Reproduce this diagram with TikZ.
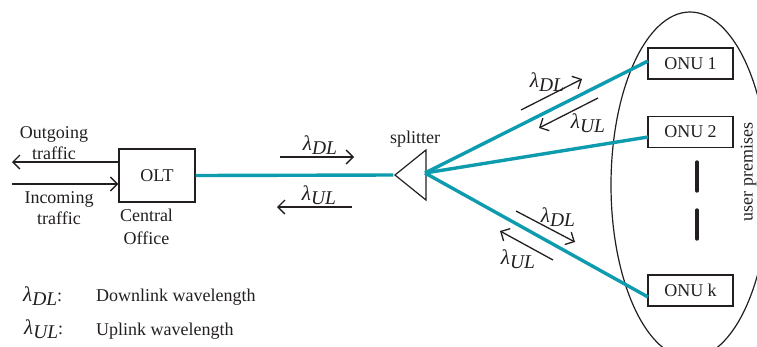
\documentclass[tikz,border=0pt]{standalone}
\usepackage{fontspec}
\setmainfont{Liberation Serif}
\usetikzlibrary{positioning, shapes.geometric, arrows.meta}
\definecolor{ponFiber}{HTML}{0E9BAE}
\definecolor{ponInk}{HTML}{231F20}
\newcommand{\wl}[1]{{\fontsize{21}{21}\selectfont\itshape λ\raisebox{-4pt}{\fontsize{19.5}{19.5}\selectfont #1}}}
\tikzset{
    ponBox/.style={
        rectangle,
        draw=ponInk,
        line width=1.4pt,
        inner sep=0pt
    },
    oltBox/.style={ponBox, minimum width=76pt, minimum height=53pt},
    onuBox/.style={ponBox, minimum width=85pt, minimum height=31pt},
    splitterShape/.style={
        isosceles triangle,
        isosceles triangle stretches,
        shape border rotate=180,
        draw=ponInk,
        line width=1.2pt,
        minimum width=50pt,
        minimum height=31pt,
        inner sep=0pt
    },
    premises/.style={
        ellipse,
        draw=ponInk,
        line width=1.2pt,
        minimum width=158pt,
        minimum height=346pt,
        inner sep=0pt
    },
    txt/.style={inner sep=0pt, align=center},
    % Arrows
    fiber/.style={draw=ponFiber, line width=3.4pt},
    flow/.style={-{Straight Barb[length=7pt,width=14pt,line width=1.3pt]}, line width=1.3pt, draw=ponInk},
    gapMark/.style={draw=ponInk, line width=3.4pt, line cap=round}
}

\begin{document}
\begin{tikzpicture}[x=1pt, y=-1pt, every node/.style={font=\fontsize{18}{20}\selectfont, text=ponInk}]
    \useasboundingbox (0,0) rectangle (757,346);
    \clip (0,0) rectangle (757,346);
    \node[premises] (users) at (690,185) {};

    \node[oltBox] (olt) at (157,175.5) {OLT};
    \node[splitterShape] (split) at (414,175) {};
    \node[onuBox] (onu1) at (690.5,63.5) {ONU 1};
    \node[onuBox, below=36pt of onu1] (onu2) {ONU 2};
    \node[onuBox] (onuk) at (690.5,290.5) {ONU k};

    \node[txt] (outLabel) at (54,143) {Outgoing\\[1pt]traffic};
    \node[txt] (inLabel) at (59,208) {Incoming\\[1pt]traffic};
    \node[txt] (coLabel) at (146.5,227) {Central\\[3pt]Office};
    \node[txt] (splitLabel) at (415,139) {splitter};
    \node[txt, rotate=90] (userLabel) at (748.5,172) {user premises};

    \coordinate (outEnd) at (12,162);
    \coordinate (inEnd) at (12,184);
    \draw[flow] (olt.west |- outEnd) -- (outEnd);
    \draw[flow] (inEnd) -- (olt.west |- inEnd);

    % fiber ends on the boxes
    \coordinate (hub) at (425,173);
    \coordinate (portA) at (648,61);
    \coordinate (portB) at (648,137);
    \coordinate (portK) at (648,297);
    \draw[fiber] (olt.east) -- (split.apex);
    \draw[fiber] (hub) -- (portA);
    \draw[fiber] (hub) -- (portB);
    \draw[fiber] (hub) -- (portK);

    % wavelength arrows
    \coordinate (dlA) at (280,157);
    \coordinate (dlB) at (354,157);
    \coordinate (ulA) at (352,207);
    \coordinate (ulB) at (277,207);
    \draw[flow] (dlA) -- (dlB);
    \draw[flow] (ulA) -- (ulB);
    \node[txt] (dlMain) at (320,145) {\wl{DL}};
    \node[txt] (ulMain) at (319,195) {\wl{UL}};

    \coordinate (dlC) at (521,110);
    \coordinate (dlD) at (582,79);
    \coordinate (ulC) at (598,98);
    \coordinate (ulD) at (539,128);
    \draw[flow] (dlC) -- (dlD);
    \draw[flow] (ulC) -- (ulD);
    \node[txt] (dlTop) at (547,82) {\wl{DL}};
    \node[txt] (ulTop) at (588,123) {\wl{UL}};

    \coordinate (dlE) at (516,211);
    \coordinate (dlF) at (575,242);
    \coordinate (ulE) at (553,260);
    \coordinate (ulF) at (500,231);
    \draw[flow] (dlE) -- (dlF);
    \draw[flow] (ulE) -- (ulF);
    \node[txt] (dlLow) at (558,217) {\wl{DL}};
    \node[txt] (ulLow) at (518,259) {\wl{UL}};

    % dashes between ONUs
    \coordinate (gapA) at (697,162);
    \coordinate (gapB) at (697,191);
    \coordinate (gapC) at (697,210);
    \coordinate (gapD) at (697,239);
    \draw[gapMark] (gapA) -- (gapB);
    \draw[gapMark] (gapC) -- (gapD);

    % legend
    \node[txt, anchor=west] (keyDL) at (23,296) {\wl{DL}:};
    \node[txt, anchor=west] (keyUL) at (24,329) {\wl{UL}:};
    \node[txt, anchor=west] (textDL) at (96,297) {Downlink wavelength};
    \node[txt, anchor=west] (textUL) at (96,331) {Uplink wavelength};
\end{tikzpicture}
\end{document}
